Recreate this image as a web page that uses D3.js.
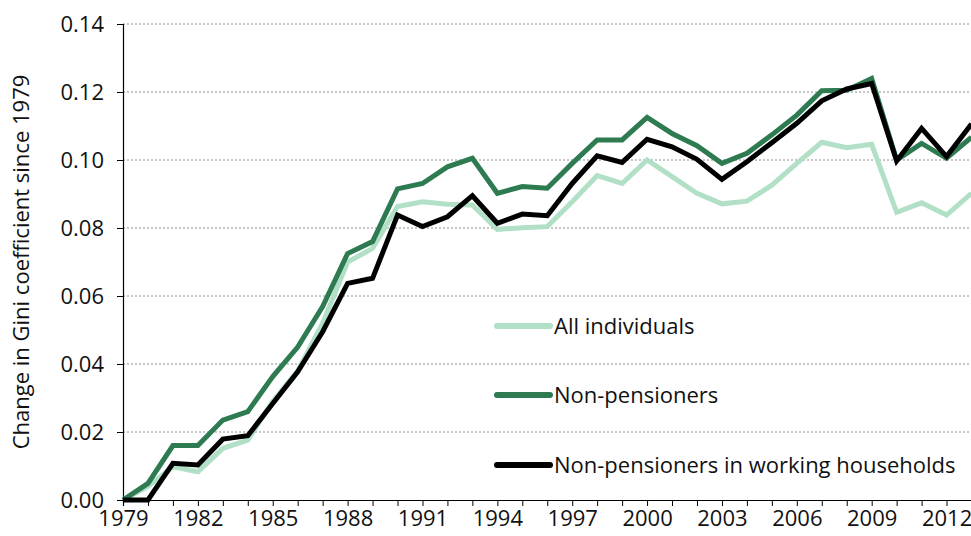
<!DOCTYPE html>
<html>
<head>
<meta charset="utf-8">
<script src="https://cdn.jsdelivr.net/npm/d3@7"></script>
<style>
  body { margin: 0; background: #fff; }
  text { font-family: "Open Sans", "Noto Sans", sans-serif; fill: #111; }
</style>
</head>
<body>
<div id="chart"></div>
<script>
// Years on the x axis
const years = d3.range(1979, 2014);

// Change in Gini coefficient since 1979
const allIndividuals = [
  0, 0.004, 0.0098, 0.0083, 0.0152, 0.0176, 0.029, 0.038, 0.052, 0.070,
  0.074, 0.0863, 0.0877, 0.087, 0.0868, 0.0796, 0.0801, 0.0804, 0.0877, 0.0954,
  0.0931, 0.100, 0.0951, 0.0902, 0.0871, 0.0879, 0.0926, 0.099, 0.1052, 0.1036,
  0.1046, 0.0846, 0.0874, 0.0838, 0.0902
];
const nonPensioners = [
  0, 0.0049, 0.016, 0.016, 0.0235, 0.026, 0.0363, 0.045, 0.0569, 0.0725,
  0.076, 0.0915, 0.0931, 0.098, 0.1005, 0.0902, 0.0922, 0.0917, 0.099, 0.1059,
  0.1059, 0.1125, 0.1078, 0.1042, 0.099, 0.102, 0.1074, 0.1132, 0.1204, 0.1205,
  0.124, 0.100, 0.1049, 0.1005, 0.1067
];
const nonPensWorking = [
  0, 0, 0.0108, 0.0103, 0.0179, 0.0189, 0.0284, 0.0377, 0.0495, 0.0637,
  0.0652, 0.0838, 0.0804, 0.0833, 0.0895, 0.0814, 0.0841, 0.0836, 0.0931, 0.1012,
  0.0993, 0.1061, 0.1039, 0.1002, 0.0943, 0.0995, 0.1051, 0.1108, 0.1174, 0.1209,
  0.1225, 0.0997, 0.1093, 0.101, 0.1106
];

const seriesNames = ["All individuals", "Non-pensioners", "Non-pensioners in working households"];
const seriesColors = ["#b1e0c7", "#2e7b52", "#000000"];
const seriesValues = [allIndividuals, nonPensioners, nonPensWorking];

const yTicks = [0, 0.02, 0.04, 0.06, 0.08, 0.10, 0.12, 0.14];
const xTickYears = d3.range(1979, 2014, 3);

const width = 971, height = 536;
const margin = { top: 24, right: 0, bottom: 36, left: 123 };

const svg = d3.select("#chart").append("svg")
  .attr("width", width)
  .attr("height", height);

const x = d3.scaleLinear()
  .domain([1979, 2013])
  .range([margin.left, 971.5]);

const y = d3.scaleLinear()
  .domain([0, 0.14])
  .range([height - margin.bottom, margin.top]);

// dotted gridlines
svg.append("g")
  .selectAll("line")
  .data(yTicks.filter(d => d > 0))
  .join("line")
  .attr("x1", margin.left)
  .attr("x2", width)
  .attr("y1", d => y(d))
  .attr("y2", d => y(d))
  .attr("stroke", "#8c8c8c")
  .attr("stroke-width", 1)
  .attr("stroke-dasharray", "2,2");

// y axis
const yAxis = svg.append("g")
  .attr("transform", `translate(${margin.left},0)`)
  .call(d3.axisLeft(y).tickValues(yTicks).tickFormat(d3.format(".2f")).tickSize(6).tickPadding(13));
yAxis.select(".domain").attr("stroke", "#000").attr("stroke-width", 1.2);
yAxis.selectAll(".tick line").attr("stroke", "#000");
yAxis.selectAll("text").attr("font-size", 22).attr("fill", "#111");

// x axis, ticks at every year
const xAxis = svg.append("g")
  .attr("transform", `translate(0,${y(0)})`)
  .call(d3.axisBottom(x).tickValues(years).tickFormat(d => xTickYears.includes(d) ? d : "").tickSize(6).tickPadding(4));
xAxis.select(".domain").attr("stroke", "#000").attr("stroke-width", 1.2);
xAxis.selectAll(".tick line").attr("stroke", "#000");
xAxis.selectAll("text").attr("font-size", 22).attr("fill", "#111");

// y axis title
svg.append("text")
  .attr("transform", `translate(29,262) rotate(-90)`)
  .attr("text-anchor", "middle")
  .attr("font-size", 22)
  .text("Change in Gini coefficient since 1979");

// lines
const line = d3.line()
  .x((d, i) => x(years[i]))
  .y(d => y(d));

svg.append("g")
  .selectAll("path")
  .data(seriesValues)
  .join("path")
  .attr("d", d => line(d))
  .attr("fill", "none")
  .attr("stroke", (d, i) => seriesColors[i])
  .attr("stroke-width", 5)
  .attr("stroke-linejoin", "miter");

// legend
const legendY = [326, 395, 465];
const legend = svg.append("g")
  .selectAll("g")
  .data(seriesNames)
  .join("g")
  .attr("transform", (d, i) => `translate(497,${legendY[i]})`);

legend.append("line")
  .attr("x1", 0)
  .attr("x2", 53)
  .attr("stroke", (d, i) => seriesColors[i])
  .attr("stroke-width", 6)
  .attr("stroke-linecap", "round");

legend.append("text")
  .attr("x", 57)
  .attr("dy", "0.35em")
  .attr("font-size", 22)
  .text(d => d);
</script>
</body>
</html>
